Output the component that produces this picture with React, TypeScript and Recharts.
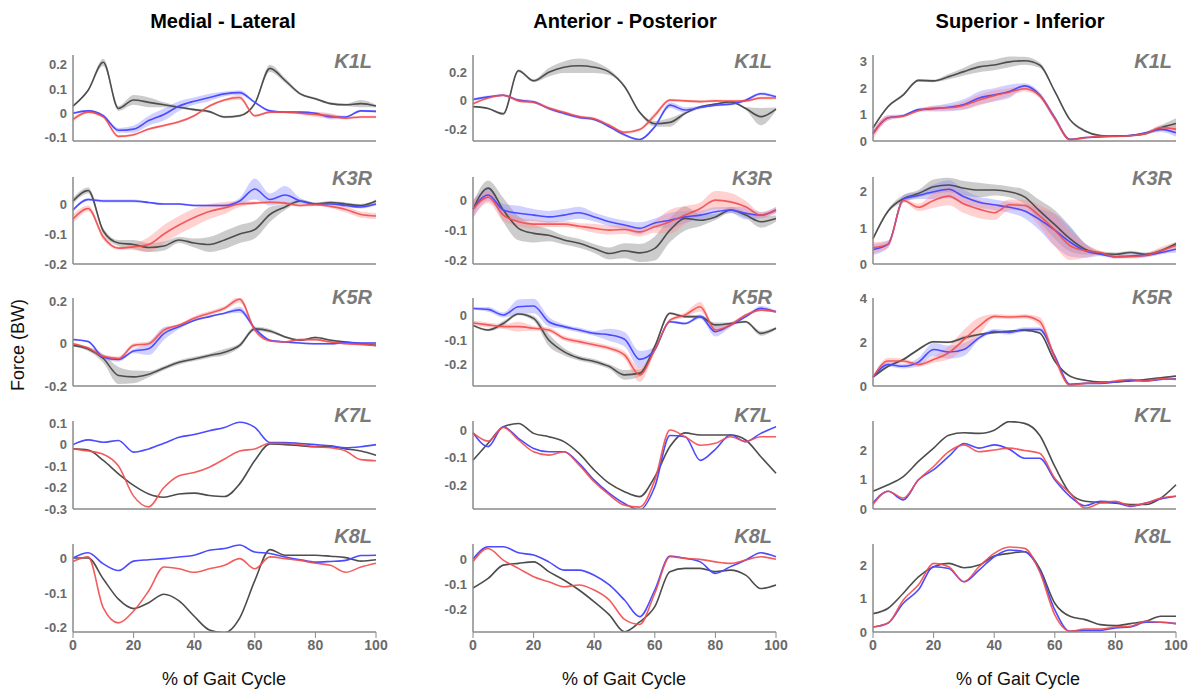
import React from 'react';
import { ComposedChart, Line, Area, XAxis, YAxis } from 'recharts';

// % of gait cycle, sampled every 5%
const GAIT = [0, 5, 10, 15, 20, 25, 30, 35, 40, 45, 50, 55, 60, 65, 70, 75, 80, 85, 90, 95, 100];
const X_TICKS = [0, 20, 40, 60, 80, 100];

const COLUMN_TITLES = ['Medial - Lateral', 'Anterior - Posterior', 'Superior - Inferior'];
const ROW_LABELS = ['K1L', 'K3R', 'K5R', 'K7L', 'K8L'];

// ---- Medial - Lateral ----
const ML_K1L_BLACK = [0.03, 0.095, 0.21, 0.02, 0.055, 0.045, 0.035, 0.025, 0.015, 0.007, -0.015, -0.01, 0.04, 0.185, 0.135, 0.08, 0.06, 0.04, 0.035, 0.04, 0.03];
const ML_K1L_BLUE = [0, 0.01, -0.01, -0.07, -0.065, -0.03, -0.005, 0.03, 0.05, 0.065, 0.08, 0.085, 0.045, 0.01, 0.005, 0.005, 0, -0.015, -0.015, 0.01, 0.008];
const ML_K1L_RED = [-0.025, 0.005, -0.015, -0.095, -0.088, -0.065, -0.05, -0.035, -0.01, 0.03, 0.055, 0.065, -0.01, 0.005, 0.005, 0, -0.005, -0.01, -0.02, -0.015, -0.015];
const ML_K1L_BLACK_SD = [0.005, 0.005, 0.015, 0.01, 0.02, 0.02, 0.01, 0.005, 0.005, 0.005, 0.005, 0.005, 0.005, 0.015, 0.01, 0.005, 0.005, 0.005, 0.005, 0.015, 0.005];
const ML_K1L_BLUE_SD = [0.005, 0.005, 0.005, 0.01, 0.015, 0.02, 0.025, 0.02, 0.015, 0.015, 0.01, 0.01, 0.005, 0.005, 0.005, 0.005, 0.005, 0.01, 0.005, 0.005, 0.005];
const ML_K1L_RED_SD = [0.01, 0.005, 0.005, 0.005, 0.005, 0.005, 0.005, 0.005, 0.005, 0.005, 0.005, 0.01, 0.005, 0.005, 0.005, 0.005, 0.01, 0.01, 0.005, 0.005, 0.005];

const ML_K3R_BLACK = [0.01, 0.045, -0.09, -0.13, -0.135, -0.145, -0.14, -0.12, -0.13, -0.135, -0.12, -0.1, -0.085, -0.035, -0.01, 0.01, 0, 0.005, 0, -0.005, 0.01];
const ML_K3R_BLUE = [-0.02, 0.015, 0.01, 0.01, 0.01, 0.005, 0, 0, -0.005, -0.005, -0.005, 0.01, 0.05, 0.015, 0.03, 0.01, 0, 0, -0.005, -0.01, 0];
const ML_K3R_RED = [-0.05, -0.015, -0.11, -0.147, -0.143, -0.135, -0.1, -0.07, -0.045, -0.025, -0.013, 0, 0.003, 0.006, 0.003, -0.005, -0.002, -0.008, -0.018, -0.035, -0.04];
const ML_K3R_BLACK_SD = [0.01, 0.01, 0.01, 0.01, 0.015, 0.015, 0.015, 0.01, 0.015, 0.025, 0.03, 0.03, 0.03, 0.025, 0.01, 0.005, 0.005, 0.005, 0.005, 0.005, 0.005];
const ML_K3R_BLUE_SD = [0.005, 0.005, 0.005, 0.005, 0.005, 0.003, 0.003, 0.003, 0.003, 0.003, 0.005, 0.01, 0.035, 0.02, 0.03, 0.01, 0.005, 0.005, 0.005, 0.005, 0.005];
const ML_K3R_RED_SD = [0.015, 0.01, 0.01, 0.005, 0.01, 0.025, 0.03, 0.03, 0.03, 0.025, 0.02, 0.01, 0.005, 0.005, 0.005, 0.005, 0.005, 0.005, 0.01, 0.01, 0.01];

const ML_K5R_BLACK = [-0.008, -0.025, -0.07, -0.15, -0.157, -0.144, -0.115, -0.088, -0.072, -0.056, -0.04, -0.008, 0.07, 0.06, 0.032, 0.016, 0.029, 0.016, 0.008, 0, -0.008];
const ML_K5R_BLUE = [0.02, 0.01, -0.064, -0.075, -0.035, -0.024, 0.048, 0.08, 0.11, 0.128, 0.144, 0.16, 0.072, 0.016, 0.008, 0.003, 0, 0, 0.005, 0.003, 0.003];
const ML_K5R_RED = [0, -0.02, -0.06, -0.07, -0.008, 0, 0.064, 0.088, 0.12, 0.144, 0.168, 0.21, 0.064, 0.013, 0.008, 0.019, 0.019, 0.008, 0, -0.003, -0.008];
const ML_K5R_BLACK_SD = [0.005, 0.01, 0.02, 0.04, 0.03, 0.015, 0.01, 0.01, 0.01, 0.01, 0.015, 0.01, 0.01, 0.01, 0.005, 0.005, 0.005, 0.005, 0.005, 0.005, 0.005];
const ML_K5R_BLUE_SD = [0.005, 0.005, 0.01, 0.01, 0.01, 0.03, 0.03, 0.01, 0.005, 0.005, 0.005, 0.015, 0.01, 0.005, 0.005, 0.005, 0.005, 0.005, 0.005, 0.005, 0.005];
const ML_K5R_RED_SD = [0.005, 0.005, 0.01, 0.01, 0.01, 0.01, 0.01, 0.005, 0.01, 0.01, 0.01, 0.015, 0.01, 0.005, 0.005, 0.005, 0.005, 0.005, 0.005, 0.005, 0.005];

const ML_K7L_BLACK = [-0.02, -0.025, -0.074, -0.136, -0.19, -0.23, -0.245, -0.23, -0.226, -0.237, -0.242, -0.183, -0.074, 0.003, 0, -0.005, -0.01, -0.01, -0.02, -0.03, -0.05];
const ML_K7L_BLUE = [0, 0.022, 0.011, 0.019, -0.035, -0.02, 0.006, 0.034, 0.047, 0.065, 0.08, 0.104, 0.08, 0.01, 0.01, 0.005, 0, -0.005, -0.015, -0.01, 0];
const ML_K7L_RED = [-0.02, -0.03, -0.045, -0.1, -0.24, -0.29, -0.2, -0.145, -0.13, -0.105, -0.067, -0.03, -0.02, 0.006, 0.005, 0, -0.01, -0.015, -0.03, -0.07, -0.075];

const ML_K8L_BLACK = [0, 0, -0.06, -0.118, -0.145, -0.128, -0.104, -0.123, -0.167, -0.206, -0.214, -0.172, -0.065, 0.024, 0.008, 0.008, 0.008, 0.005, 0.001, -0.009, -0.005];
const ML_K8L_BLUE = [0, 0.015, -0.017, -0.036, -0.009, -0.005, -0.002, 0.003, 0.008, 0.022, 0.027, 0.037, 0.017, 0.013, 0.003, -0.005, -0.012, -0.01, -0.007, 0.007, 0.008];
const ML_K8L_RED = [-0.01, 0.003, -0.143, -0.186, -0.152, -0.094, -0.026, -0.031, -0.041, -0.031, -0.021, -0.002, -0.031, 0.003, -0.002, -0.007, -0.015, -0.021, -0.041, -0.026, -0.015];

// ---- Anterior - Posterior ----
const AP_K1L_BLACK = [-0.04, -0.053, -0.09, 0.21, 0.14, 0.2, 0.235, 0.245, 0.235, 0.2, 0.1, -0.08, -0.16, -0.15, -0.087, -0.041, -0.023, -0.007, -0.053, -0.11, -0.057];
const AP_K1L_BLUE = [0.01, 0.028, 0.039, 0.005, -0.007, -0.053, -0.087, -0.115, -0.129, -0.18, -0.237, -0.27, -0.18, -0.03, -0.064, -0.046, -0.03, -0.023, 0.005, 0.05, 0.028];
const AP_K1L_RED = [-0.02, 0.02, 0.039, 0, -0.01, -0.05, -0.08, -0.11, -0.125, -0.17, -0.22, -0.2, -0.1, 0.005, 0, -0.005, 0, -0.002, 0, 0.02, 0.02];
const AP_K1L_BLACK_SD = [0.005, 0.005, 0.01, 0.01, 0.01, 0.03, 0.04, 0.05, 0.04, 0.02, 0.01, 0.01, 0.02, 0.03, 0.01, 0.005, 0.005, 0.005, 0.01, 0.06, 0.01];
const AP_K1L_BLUE_SD = [0.01, 0.01, 0.005, 0.01, 0.01, 0.01, 0.01, 0.01, 0.01, 0.01, 0.01, 0.005, 0.01, 0.02, 0.02, 0.01, 0.01, 0.01, 0.01, 0.01, 0.01];
const AP_K1L_RED_SD = [0.01, 0.005, 0.01, 0.01, 0.01, 0.01, 0.01, 0.01, 0.01, 0.01, 0.01, 0.01, 0.02, 0.01, 0.01, 0.01, 0.01, 0.01, 0.01, 0.01, 0.01];

const AP_K3R_BLACK = [-0.03, 0.04, -0.033, -0.094, -0.111, -0.117, -0.133, -0.144, -0.161, -0.178, -0.169, -0.176, -0.161, -0.1, -0.061, -0.067, -0.056, -0.033, -0.05, -0.072, -0.061];
const AP_K3R_BLUE = [-0.03, 0.017, -0.033, -0.044, -0.05, -0.056, -0.05, -0.042, -0.056, -0.072, -0.083, -0.094, -0.076, -0.067, -0.056, -0.05, -0.039, -0.033, -0.044, -0.05, -0.033];
const AP_K3R_RED = [-0.03, 0.01, -0.05, -0.072, -0.08, -0.08, -0.08, -0.087, -0.094, -0.1, -0.098, -0.106, -0.089, -0.072, -0.05, -0.028, 0, -0.006, -0.022, -0.05, -0.033];
const AP_K3R_BLACK_SD = [0.02, 0.025, 0.04, 0.04, 0.03, 0.02, 0.015, 0.015, 0.015, 0.02, 0.025, 0.03, 0.04, 0.04, 0.04, 0.02, 0.01, 0.01, 0.01, 0.02, 0.01];
const AP_K3R_BLUE_SD = [0.03, 0.02, 0.02, 0.025, 0.02, 0.02, 0.02, 0.02, 0.015, 0.015, 0.015, 0.02, 0.015, 0.025, 0.02, 0.015, 0.015, 0.01, 0.02, 0.01, 0.01];
const AP_K3R_RED_SD = [0.03, 0.02, 0.02, 0.015, 0.015, 0.01, 0.01, 0.01, 0.015, 0.015, 0.015, 0.015, 0.02, 0.04, 0.03, 0.02, 0.03, 0.03, 0.02, 0.01, 0.01];

const AP_K5R_BLACK = [-0.04, -0.059, -0.032, 0.007, -0.011, -0.1, -0.148, -0.175, -0.189, -0.21, -0.244, -0.237, -0.127, 0.01, -0.004, -0.004, -0.038, -0.032, -0.025, -0.073, -0.052];
const AP_K5R_BLUE = [0.03, 0.026, 0.003, 0.037, 0.04, -0.025, -0.045, -0.059, -0.073, -0.079, -0.097, -0.18, -0.14, -0.025, -0.032, -0.004, -0.066, -0.038, -0.004, 0.03, 0.016];
const AP_K5R_RED = [-0.03, -0.038, -0.045, -0.045, -0.052, -0.059, -0.093, -0.107, -0.12, -0.134, -0.162, -0.244, -0.141, -0.018, 0.003, 0.037, -0.059, -0.038, 0.003, 0.023, 0.016];
const AP_K5R_BLACK_SD = [0.005, 0.005, 0.01, 0.005, 0.01, 0.025, 0.015, 0.01, 0.01, 0.01, 0.02, 0.015, 0.01, 0.005, 0.005, 0.005, 0.01, 0.005, 0.005, 0.01, 0.005];
const AP_K5R_BLUE_SD = [0.005, 0.01, 0.01, 0.03, 0.03, 0.02, 0.01, 0.01, 0.01, 0.025, 0.03, 0.035, 0.01, 0.005, 0.005, 0.01, 0.02, 0.01, 0.005, 0.01, 0.005];
const AP_K5R_RED_SD = [0.01, 0.01, 0.01, 0.02, 0.01, 0.01, 0.01, 0.01, 0.01, 0.01, 0.015, 0.03, 0.01, 0.005, 0.01, 0.02, 0.01, 0.01, 0.005, 0.005, 0.005];

const AP_K7L_BLACK = [-0.11, -0.048, 0.012, 0.024, -0.012, -0.024, -0.042, -0.085, -0.145, -0.194, -0.224, -0.242, -0.17, -0.06, -0.01, -0.018, -0.018, -0.018, -0.036, -0.097, -0.157];
const AP_K7L_BLUE = [-0.01, -0.06, 0.012, -0.03, -0.067, -0.079, -0.079, -0.121, -0.182, -0.23, -0.267, -0.29, -0.206, -0.02, -0.024, -0.11, -0.07, -0.018, -0.042, -0.012, 0.012];
const AP_K7L_RED = [-0.01, -0.04, 0.01, -0.036, -0.079, -0.091, -0.079, -0.127, -0.188, -0.236, -0.273, -0.28, -0.182, 0, -0.024, -0.055, -0.048, -0.024, -0.042, -0.024, -0.024];

const AP_K8L_BLACK = [-0.115, -0.077, -0.024, -0.017, -0.011, -0.05, -0.083, -0.123, -0.17, -0.222, -0.289, -0.25, -0.189, -0.05, -0.037, -0.037, -0.05, -0.044, -0.064, -0.117, -0.103];
const AP_K8L_BLUE = [0, 0.049, 0.049, 0.025, 0.016, -0.011, -0.044, -0.044, -0.064, -0.103, -0.163, -0.229, -0.123, 0.012, 0.003, -0.011, -0.057, -0.03, -0.004, 0.025, 0.009];
const AP_K8L_RED = [-0.01, 0.042, -0.004, -0.037, -0.07, -0.09, -0.11, -0.103, -0.123, -0.163, -0.24, -0.26, -0.136, 0.009, 0.003, -0.001, -0.011, -0.017, -0.004, 0.009, -0.001];

// ---- Superior - Inferior ----
const SI_K1L_BLACK = [0.5, 1.31, 1.75, 2.3, 2.28, 2.44, 2.63, 2.81, 2.88, 3.0, 3.04, 2.88, 1.88, 0.81, 0.38, 0.21, 0.19, 0.21, 0.29, 0.5, 0.66];
const SI_K1L_BLUE = [0.3, 0.88, 0.96, 1.19, 1.22, 1.28, 1.38, 1.63, 1.75, 1.88, 2.09, 1.75, 0.88, 0.06, 0.13, 0.15, 0.19, 0.21, 0.31, 0.44, 0.31];
const SI_K1L_RED = [0.25, 0.88, 0.94, 1.15, 1.25, 1.26, 1.35, 1.55, 1.72, 1.85, 1.98, 1.72, 0.85, 0.05, 0.12, 0.18, 0.17, 0.2, 0.28, 0.5, 0.45];
const SI_K1L_BLACK_SD = [0.05, 0.05, 0.05, 0.05, 0.05, 0.1, 0.15, 0.2, 0.2, 0.2, 0.15, 0.1, 0.05, 0.05, 0.05, 0.03, 0.03, 0.03, 0.05, 0.1, 0.2];
const SI_K1L_BLUE_SD = [0.1, 0.1, 0.05, 0.05, 0.1, 0.15, 0.2, 0.25, 0.25, 0.25, 0.1, 0.1, 0.1, 0.05, 0.03, 0.03, 0.03, 0.03, 0.05, 0.1, 0.15];
const SI_K1L_RED_SD = [0.2, 0.1, 0.05, 0.05, 0.1, 0.1, 0.15, 0.2, 0.2, 0.15, 0.1, 0.1, 0.1, 0.05, 0.03, 0.03, 0.03, 0.03, 0.05, 0.1, 0.15];

const SI_K3R_BLACK = [0.7, 1.47, 1.81, 1.95, 2.14, 2.19, 2.1, 2.05, 2.05, 2.0, 1.86, 1.47, 1.09, 0.7, 0.41, 0.3, 0.27, 0.32, 0.27, 0.37, 0.56];
const SI_K3R_BLUE = [0.4, 0.55, 1.8, 1.9, 2.0, 2.07, 1.86, 1.71, 1.64, 1.57, 1.47, 1.23, 0.94, 0.61, 0.37, 0.27, 0.2, 0.22, 0.24, 0.32, 0.41];
const SI_K3R_RED = [0.45, 0.55, 1.76, 1.57, 1.76, 1.88, 1.66, 1.52, 1.42, 1.64, 1.62, 1.33, 0.94, 0.51, 0.37, 0.32, 0.2, 0.2, 0.24, 0.37, 0.51];
const SI_K3R_BLACK_SD = [0.05, 0.05, 0.1, 0.1, 0.2, 0.2, 0.2, 0.2, 0.15, 0.15, 0.2, 0.3, 0.4, 0.35, 0.15, 0.05, 0.05, 0.05, 0.05, 0.05, 0.05];
const SI_K3R_BLUE_SD = [0.15, 0.1, 0.1, 0.1, 0.2, 0.25, 0.2, 0.15, 0.15, 0.15, 0.2, 0.3, 0.45, 0.4, 0.2, 0.05, 0.05, 0.05, 0.05, 0.05, 0.1];
const SI_K3R_RED_SD = [0.15, 0.1, 0.05, 0.1, 0.2, 0.25, 0.25, 0.25, 0.2, 0.15, 0.15, 0.3, 0.45, 0.4, 0.2, 0.05, 0.05, 0.05, 0.05, 0.1, 0.1];

const SI_K5R_BLACK = [0.4, 0.9, 1.21, 1.67, 2.02, 2.0, 2.2, 2.35, 2.45, 2.5, 2.55, 2.42, 1.14, 0.45, 0.26, 0.18, 0.18, 0.23, 0.3, 0.38, 0.45];
const SI_K5R_BLUE = [0.4, 0.98, 0.9, 1.09, 1.67, 1.55, 1.67, 2.2, 2.5, 2.45, 2.58, 2.58, 1.36, 0.08, 0.12, 0.12, 0.18, 0.26, 0.23, 0.3, 0.33];
const SI_K5R_RED = [0.4, 1.14, 1.14, 0.98, 1.21, 1.52, 2.12, 2.73, 3.18, 3.15, 3.18, 2.95, 1.29, 0.03, 0.12, 0.15, 0.23, 0.3, 0.23, 0.33, 0.3];
const SI_K5R_BLACK_SD = [0.05, 0.05, 0.05, 0.05, 0.05, 0.05, 0.1, 0.05, 0.05, 0.05, 0.05, 0.05, 0.05, 0.05, 0.03, 0.03, 0.03, 0.03, 0.03, 0.03, 0.03];
const SI_K5R_BLUE_SD = [0.05, 0.1, 0.1, 0.2, 0.3, 0.3, 0.3, 0.1, 0.1, 0.1, 0.1, 0.1, 0.1, 0.05, 0.03, 0.03, 0.03, 0.03, 0.03, 0.03, 0.03];
const SI_K5R_RED_SD = [0.05, 0.15, 0.1, 0.1, 0.15, 0.3, 0.45, 0.4, 0.1, 0.1, 0.1, 0.2, 0.2, 0.05, 0.03, 0.03, 0.03, 0.03, 0.03, 0.03, 0.03];

const SI_K7L_BLACK = [0.6, 0.82, 1.1, 1.61, 2.06, 2.5, 2.58, 2.56, 2.67, 2.96, 2.9, 2.5, 1.44, 0.54, 0.26, 0.22, 0.2, 0.15, 0.15, 0.37, 0.82];
const SI_K7L_BLUE = [0.2, 0.6, 0.31, 0.99, 1.33, 1.78, 2.22, 2.06, 2.17, 2.02, 1.72, 1.72, 0.99, 0.43, 0.11, 0.26, 0.22, 0.09, 0.2, 0.34, 0.43];
const SI_K7L_RED = [0.15, 0.6, 0.37, 0.99, 1.44, 1.94, 2.17, 1.94, 2.0, 2.06, 1.98, 1.89, 1.04, 0.54, 0.03, 0.2, 0.26, 0.11, 0.2, 0.37, 0.43];

const SI_K8L_BLACK = [0.55, 0.71, 1.16, 1.65, 1.95, 2.05, 1.92, 2.0, 2.27, 2.35, 2.4, 1.9, 0.86, 0.47, 0.37, 0.22, 0.19, 0.25, 0.32, 0.47, 0.47];
const SI_K8L_BLUE = [0.15, 0.27, 0.86, 1.26, 1.95, 1.9, 1.5, 1.85, 2.25, 2.45, 2.4, 1.85, 0.66, 0.02, 0.05, 0.05, 0.12, 0.15, 0.29, 0.29, 0.25];
const SI_K8L_RED = [0.15, 0.27, 0.96, 1.41, 2.05, 1.95, 1.5, 1.95, 2.35, 2.54, 2.5, 1.8, 0.51, 0.02, 0.09, 0.09, 0.15, 0.17, 0.32, 0.29, 0.25];

// axis ranges and ticks per panel, [column][row]
const Y_DOMAINS = [
  [[-0.114, 0.24], [-0.2, 0.09], [-0.2, 0.216], [-0.3, 0.11], [-0.212, 0.04]],
  [[-0.28, 0.32], [-0.213, 0.077], [-0.29, 0.073], [-0.287, 0.033], [-0.29, 0.06]],
  [[0, 3.26], [0, 2.41], [0, 4.02], [0, 2.98], [0, 2.63]],
];
const Y_TICKS = [
  [[-0.1, 0, 0.1, 0.2], [-0.2, -0.1, 0], [-0.2, 0, 0.2], [-0.3, -0.2, -0.1, 0, 0.1], [-0.2, -0.1, 0]],
  [[-0.2, 0, 0.2], [-0.2, -0.1, 0], [-0.2, -0.1, 0], [-0.2, -0.1, 0], [-0.2, -0.1, 0]],
  [[0, 1, 2, 3], [0, 1, 2], [0, 2, 4], [0, 1, 2], [0, 1, 2]],
];

type Series = { black: number[]; blue: number[]; red: number[]; blackSd?: number[]; blueSd?: number[]; redSd?: number[] };

const SERIES: Series[][] = [
  [
    { black: ML_K1L_BLACK, blue: ML_K1L_BLUE, red: ML_K1L_RED, blackSd: ML_K1L_BLACK_SD, blueSd: ML_K1L_BLUE_SD, redSd: ML_K1L_RED_SD },
    { black: ML_K3R_BLACK, blue: ML_K3R_BLUE, red: ML_K3R_RED, blackSd: ML_K3R_BLACK_SD, blueSd: ML_K3R_BLUE_SD, redSd: ML_K3R_RED_SD },
    { black: ML_K5R_BLACK, blue: ML_K5R_BLUE, red: ML_K5R_RED, blackSd: ML_K5R_BLACK_SD, blueSd: ML_K5R_BLUE_SD, redSd: ML_K5R_RED_SD },
    { black: ML_K7L_BLACK, blue: ML_K7L_BLUE, red: ML_K7L_RED },
    { black: ML_K8L_BLACK, blue: ML_K8L_BLUE, red: ML_K8L_RED },
  ],
  [
    { black: AP_K1L_BLACK, blue: AP_K1L_BLUE, red: AP_K1L_RED, blackSd: AP_K1L_BLACK_SD, blueSd: AP_K1L_BLUE_SD, redSd: AP_K1L_RED_SD },
    { black: AP_K3R_BLACK, blue: AP_K3R_BLUE, red: AP_K3R_RED, blackSd: AP_K3R_BLACK_SD, blueSd: AP_K3R_BLUE_SD, redSd: AP_K3R_RED_SD },
    { black: AP_K5R_BLACK, blue: AP_K5R_BLUE, red: AP_K5R_RED, blackSd: AP_K5R_BLACK_SD, blueSd: AP_K5R_BLUE_SD, redSd: AP_K5R_RED_SD },
    { black: AP_K7L_BLACK, blue: AP_K7L_BLUE, red: AP_K7L_RED },
    { black: AP_K8L_BLACK, blue: AP_K8L_BLUE, red: AP_K8L_RED },
  ],
  [
    { black: SI_K1L_BLACK, blue: SI_K1L_BLUE, red: SI_K1L_RED, blackSd: SI_K1L_BLACK_SD, blueSd: SI_K1L_BLUE_SD, redSd: SI_K1L_RED_SD },
    { black: SI_K3R_BLACK, blue: SI_K3R_BLUE, red: SI_K3R_RED, blackSd: SI_K3R_BLACK_SD, blueSd: SI_K3R_BLUE_SD, redSd: SI_K3R_RED_SD },
    { black: SI_K5R_BLACK, blue: SI_K5R_BLUE, red: SI_K5R_RED, blackSd: SI_K5R_BLACK_SD, blueSd: SI_K5R_BLUE_SD, redSd: SI_K5R_RED_SD },
    { black: SI_K7L_BLACK, blue: SI_K7L_BLUE, red: SI_K7L_RED },
    { black: SI_K8L_BLACK, blue: SI_K8L_BLUE, red: SI_K8L_RED },
  ],
];

// layout (page pixels)
const COL_LEFT = [73, 473, 873];
const PLOT_W = 303;
const ROW_TOP = [55, 177, 298, 421, 544];
const ROW_BOTTOM = [141, 264, 386, 509, 632];
const Y_W = 46;
const PAD_TOP = 8;
const PAD_RIGHT = 16;
const PAD_BOTTOM = 10;

const FONT = '"Liberation Sans", Arial, Helvetica, sans-serif';
const AXIS = '#8a8a8a';
const TICK_TEXT = '#6a6a6a';
const COLORS = { black: '#4d4d4d', blue: '#4b4bff', red: '#f24b4b' };
const BANDS = { black: '#9a9a9a', blue: '#8c8cff', red: '#ff8c8c' };

const Panel: React.FC<{ col: number; row: number }> = ({ col, row }) => {
  const s = SERIES[col][row];
  const last = row === 4;
  const plotH = ROW_BOTTOM[row] - ROW_TOP[row];
  const xh = last ? 26 : 1;
  const padB = last ? 0 : PAD_BOTTOM;
  const w = PLOT_W + Y_W + PAD_RIGHT;
  const h = PAD_TOP + plotH + xh + padB;

  const data = GAIT.map((g, i) => {
    const d: any = { g, black: s.black[i], blue: s.blue[i], red: s.red[i] };
    if (s.blackSd) d.blackBand = [s.black[i] - s.blackSd[i], s.black[i] + s.blackSd[i]];
    if (s.blueSd) d.blueBand = [s.blue[i] - s.blueSd[i], s.blue[i] + s.blueSd[i]];
    if (s.redSd) d.redBand = [s.red[i] - s.redSd[i], s.red[i] + s.redSd[i]];
    return d;
  });

  return (
    <div style={{ position: 'absolute', left: COL_LEFT[col] - Y_W, top: ROW_TOP[row] - PAD_TOP, width: w, height: h }}>
      <ComposedChart width={w} height={h} data={data} margin={{ top: PAD_TOP, right: PAD_RIGHT, left: 0, bottom: padB }}>
        <XAxis
          type="number"
          dataKey="g"
          domain={[0, 100]}
          ticks={X_TICKS}
          interval={0}
          height={xh}
          tick={last ? { fontSize: 14, fill: TICK_TEXT, fontFamily: FONT, fontWeight: 600 } : false}
          tickLine={last ? { stroke: AXIS } : false}
          tickSize={last ? 6 : 0}
          tickMargin={2}
          axisLine={{ stroke: AXIS, strokeWidth: 1.5 }}
        />
        <YAxis
          type="number"
          domain={Y_DOMAINS[col][row]}
          ticks={Y_TICKS[col][row]}
          interval={0}
          allowDataOverflow
          width={Y_W}
          tick={{ fontSize: 13, fill: TICK_TEXT, fontFamily: FONT, fontWeight: 700 }}
          tickLine={false}
          tickSize={4}
          tickMargin={2}
          axisLine={{ stroke: AXIS, strokeWidth: 1.5 }}
        />
        {s.blackSd && (
          <Area type="monotone" dataKey="blackBand" stroke="none" fill={BANDS.black} fillOpacity={0.5} isAnimationActive={false} dot={false} activeDot={false} />
        )}
        {s.blueSd && (
          <Area type="monotone" dataKey="blueBand" stroke="none" fill={BANDS.blue} fillOpacity={0.4} isAnimationActive={false} dot={false} activeDot={false} />
        )}
        {s.redSd && (
          <Area type="monotone" dataKey="redBand" stroke="none" fill={BANDS.red} fillOpacity={0.4} isAnimationActive={false} dot={false} activeDot={false} />
        )}
        <Line type="monotone" dataKey="black" stroke={COLORS.black} strokeWidth={1.6} dot={false} isAnimationActive={false} />
        <Line type="monotone" dataKey="blue" stroke={COLORS.blue} strokeWidth={1.6} dot={false} isAnimationActive={false} />
        <Line type="monotone" dataKey="red" stroke={COLORS.red} strokeWidth={1.6} strokeOpacity={0.9} dot={false} isAnimationActive={false} />
      </ComposedChart>
    </div>
  );
};

const LABEL_Y = [61, 178, 297, 415, 536];
const TITLE_X = [223, 625, 1020];
const XLABEL_X = [224, 624, 1018];

export default function App() {
  return (
    <div style={{ position: 'absolute', left: 0, top: 0, width: 1196, height: 693, background: '#fff', fontFamily: FONT, overflow: 'hidden' }}>
      {COLUMN_TITLES.map((t, c) => (
        <div key={t} style={{ position: 'absolute', left: TITLE_X[c] - 150, width: 300, top: 10, textAlign: 'center', fontSize: 20, fontWeight: 700, color: '#000' }}>
          {t}
        </div>
      ))}
      {COLUMN_TITLES.map((_, c) =>
        ROW_LABELS.map((_, r) => <Panel key={`${c}-${r}`} col={c} row={r} />)
      )}
      {COLUMN_TITLES.map((_, c) =>
        ROW_LABELS.map((lab, r) => (
          <div
            key={`lab-${c}-${r}`}
            style={{
              position: 'absolute',
              left: COL_LEFT[c] + PLOT_W - 104,
              width: 100,
              top: LABEL_Y[r] - 12,
              textAlign: 'right',
              fontSize: 20,
              fontWeight: 700,
              fontStyle: 'italic',
              color: '#7a7a7a',
              lineHeight: '24px',
            }}
          >
            {lab}
          </div>
        ))
      )}
      {XLABEL_X.map((x, c) => (
        <div key={`xl-${c}`} style={{ position: 'absolute', left: x - 100, width: 200, top: 669, textAlign: 'center', fontSize: 18, color: '#111' }}>
          % of Gait Cycle
        </div>
      ))}
      <div
        style={{
          position: 'absolute',
          left: 18 - 60,
          top: 345 - 12,
          width: 120,
          height: 24,
          lineHeight: '24px',
          textAlign: 'center',
          fontSize: 18,
          color: '#111',
          transform: 'rotate(-90deg)',
        }}
      >
        Force (BW)
      </div>
    </div>
  );
}
